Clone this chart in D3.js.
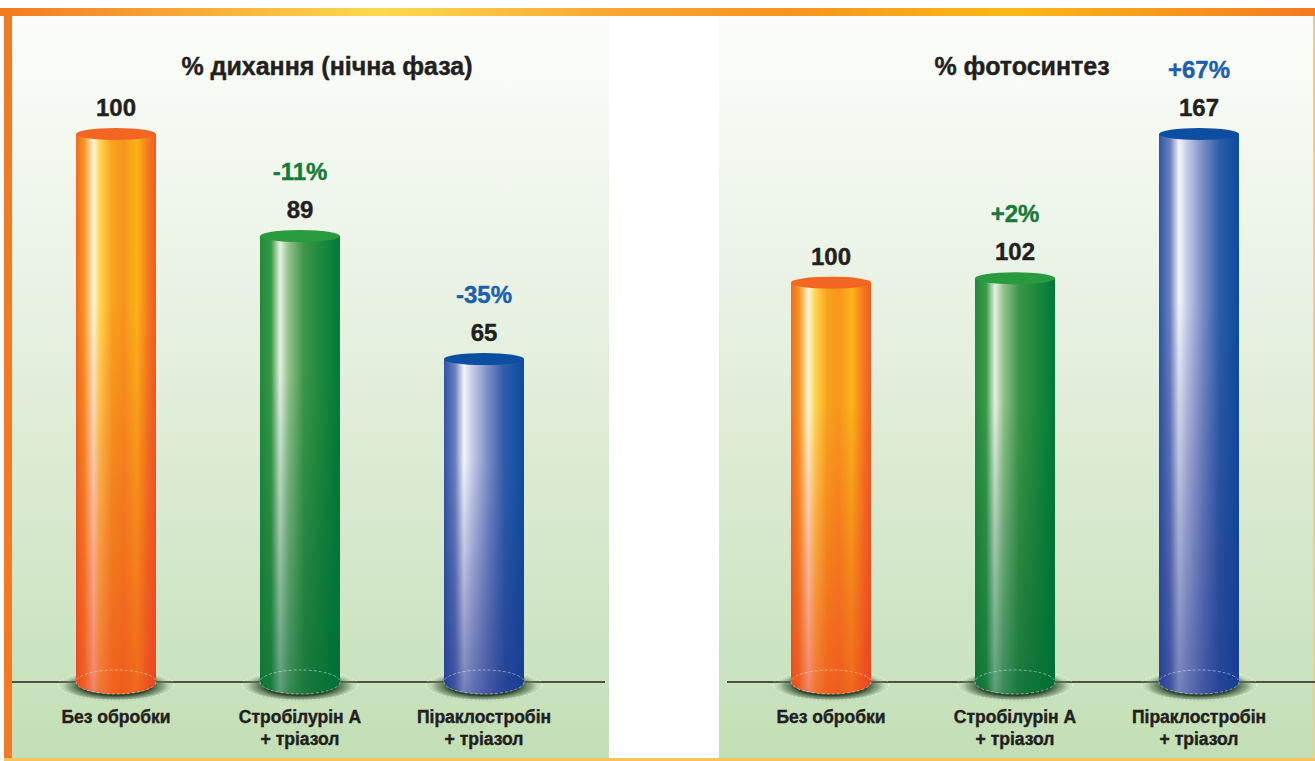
<!DOCTYPE html>
<meta charset="utf-8">
<style>
body { margin: 0; background: #fff; }
svg { display: block; font-family: "Liberation Sans", Arial, Helvetica, sans-serif; }
.title, .value, .change, .cat { font-weight: bold; text-anchor: middle; stroke-width: 0.4px; }
</style>
<svg width="1315" height="761"></svg>
<script src="https://d3js.org/d3.v7.min.js"></script>
<script>

// data
var categories = ["Без обробки", "Стробілурін А", "Піраклостробін"];
var categoryLines = [["Без обробки"], ["Стробілурін А", "+ тріазол"], ["Піраклостробін", "+ тріазол"]];
var titles = ["% дихання (нічна фаза)", "% фотосинтез"];
var respiration = [100, 89, 65];
var respirationChange = ["", "-11%", "-35%"];
var photosynthesis = [100, 102, 167];
var photosynthesisChange = ["", "+2%", "+67%"];

var svg = d3.select("svg"),
    width = +svg.attr("width"),
    height = +svg.attr("height");

var baseY = 682, topY = 134, barW = 80;

// the artwork is not drawn to scale, so each panel gets its own fitted scale
var panels = [
  { title: titles[0], values: respiration, changes: respirationChange,
    x0: 12, x1: 609, line: [12, 605], xr: [116, 484], titleX: 327,
    y: d3.scalePow().exponent(4).domain([-100, 100]).range([baseY, topY]) },
  { title: titles[1], values: photosynthesis, changes: photosynthesisChange,
    x0: 719, x1: 1313, line: [727, 1315], xr: [831, 1199], titleX: 1022,
    y: d3.scaleLinear().domain([-80, 167]).range([baseY, topY]) }
];

var themes = [
  { top: "#f26522", text: "#231f20", bottom: "#e8361f",
    stops: [[0, "#f26a21"], [0.1, "#f7941d"], [0.22, "#fff6d8"], [0.3, "#ffd551"], [0.45, "#f9a21b"],
            [0.6, "#f7941d"], [0.76, "#fbb416"], [0.9, "#f47920"], [1, "#f15a22"]] },
  { top: "#2a9a3e", text: "#157a3c", bottom: "#006633",
    stops: [[0, "#1e8a3a"], [0.14, "#3a9a48"], [0.25, "#e6f0e2"], [0.36, "#8fc08b"], [0.55, "#3c9549"],
            [0.75, "#1f8a3c"], [1, "#007a3a"]] },
  { top: "#0c4ea2", text: "#1b5fae", bottom: "#1f338c",
    stops: [[0, "#2d55a5"], [0.14, "#6c80c0"], [0.25, "#f4f4fb"], [0.36, "#c3c9e6"], [0.55, "#7a8cc6"],
            [0.76, "#2c5ca8"], [1, "#0a4d9f"]] }
];

var defs = svg.append("defs");

var bg = defs.append("linearGradient").attr("id", "panelBg")
    .attr("x1", 0).attr("y1", 0).attr("x2", 0).attr("y2", 1);
bg.append("stop").attr("offset", 0).attr("stop-color", "#fcfdfb");
bg.append("stop").attr("offset", 0.5).attr("stop-color", "#e2eedb");
bg.append("stop").attr("offset", 1).attr("stop-color", "#c3dfb6");

var border = defs.append("linearGradient").attr("id", "topBorder");
[[0, "#f37a20"], [0.29, "#fcd94c"], [0.47, "#f9a531"], [0.6, "#f7941d"], [0.77, "#fbb817"], [1, "#f37a20"]]
  .forEach(function(s) { border.append("stop").attr("offset", s[0]).attr("stop-color", s[1]); });

var shadow = defs.append("radialGradient").attr("id", "shadow");
shadow.append("stop").attr("offset", 0.6).attr("stop-color", "#2c452e").attr("stop-opacity", 1);
shadow.append("stop").attr("offset", 0.82).attr("stop-color", "#5f7a5c").attr("stop-opacity", 0.55);
shadow.append("stop").attr("offset", 1).attr("stop-color", "#c3dfb6").attr("stop-opacity", 0);

themes.forEach(function(t, i) {
  var g = defs.append("linearGradient").attr("id", "body" + i);
  t.stops.forEach(function(s) { g.append("stop").attr("offset", s[0]).attr("stop-color", s[1]); });
  var v = defs.append("linearGradient").attr("id", "shade" + i)
      .attr("x1", 0).attr("y1", 0).attr("x2", 0).attr("y2", 1);
  v.append("stop").attr("offset", 0.3).attr("stop-color", t.bottom).attr("stop-opacity", 0);
  v.append("stop").attr("offset", 1).attr("stop-color", t.bottom).attr("stop-opacity", 0.6);
});

// frame
svg.append("rect").attr("x", 0).attr("y", 8).attr("width", width).attr("height", 8)
    .attr("fill", "url(#topBorder)");
svg.append("rect").attr("x", 4).attr("y", 8).attr("width", 8).attr("height", height - 8)
    .attr("fill", "#f37a20");
svg.append("rect").attr("x", 4).attr("y", 758).attr("width", width - 4).attr("height", 3)
    .attr("fill", "#f6c35a");
svg.append("rect").attr("x", 1313).attr("y", 16).attr("width", 2).attr("height", 742)
    .attr("fill", "#f8c88a");

panels.forEach(function(p) {
  var g = svg.append("g");
  var x = d3.scalePoint().domain(categories).range(p.xr);

  g.append("rect").attr("x", p.x0).attr("y", 16)
      .attr("width", p.x1 - p.x0).attr("height", 742)
      .attr("fill", "url(#panelBg)");

  g.append("text").attr("class", "title")
      .attr("x", p.titleX).attr("y", 75)
      .style("font-size", "25px").attr("fill", "#231f20").attr("stroke", "#231f20")
      .text(p.title);

  g.append("line")
      .attr("x1", p.line[0]).attr("x2", p.line[1])
      .attr("y1", baseY).attr("y2", baseY)
      .attr("stroke", "#231f20").attr("stroke-width", 1.3);

  var bar = g.selectAll(".bar")
    .data(p.values)
    .enter().append("g")
      .attr("class", "bar")
      .attr("transform", function(d, i) { return "translate(" + x(categories[i]) + ",0)"; });

  bar.append("ellipse")
      .attr("cy", baseY + 4).attr("rx", 58).attr("ry", 16)
      .attr("fill", "url(#shadow)");
  bar.append("ellipse")
      .attr("cy", baseY + 3).attr("rx", 58).attr("ry", 15)
      .attr("fill", "none").attr("stroke", "#fff").attr("stroke-opacity", 0.6)
      .attr("stroke-dasharray", "2,2").attr("stroke-width", 0.8);

  // cylinder body: rect + lower half ellipse
  function body(d) {
    var t = p.y(d);
    return "M" + (-barW / 2) + "," + t + "V" + baseY +
           "A" + (barW / 2) + ",12 0 0,0 " + (barW / 2) + "," + baseY +
           "V" + t + "Z";
  }
  bar.append("path").attr("d", body)
      .attr("fill", function(d, i) { return "url(#body" + i + ")"; });
  bar.append("path").attr("d", body)
      .attr("fill", function(d, i) { return "url(#shade" + i + ")"; });

  bar.append("ellipse")
      .attr("cy", baseY).attr("rx", barW / 2).attr("ry", 12)
      .attr("fill", "none").attr("stroke", "#fff").attr("stroke-opacity", 0.55)
      .attr("stroke-dasharray", "3,2").attr("stroke-width", 0.8);

  bar.append("ellipse")
      .attr("cy", function(d) { return p.y(d); })
      .attr("rx", barW / 2).attr("ry", 6)
      .attr("fill", function(d, i) { return themes[i].top; });

  bar.append("text").attr("class", "value")
      .attr("y", function(d) { return p.y(d) - 18; })
      .style("font-size", "24px").attr("fill", "#231f20").attr("stroke", "#231f20")
      .text(function(d) { return d; });

  bar.append("text").attr("class", "change")
      .attr("y", function(d) { return p.y(d) - 56; })
      .style("font-size", "24px")
      .attr("fill", function(d, i) { return themes[i].text; })
      .attr("stroke", function(d, i) { return themes[i].text; })
      .text(function(d, i) { return p.changes[i]; });

  bar.append("text").attr("class", "cat")
      .attr("y", 723)
      .style("font-size", "17.5px").attr("fill", "#231f20").attr("stroke", "#231f20")
    .selectAll("tspan")
      .data(function(d, i) { return categoryLines[i]; })
    .enter().append("tspan")
      .attr("x", 0)
      .attr("dy", function(d, i) { return i ? 22 : 0; })
      .text(function(d) { return d; });
});

</script>
